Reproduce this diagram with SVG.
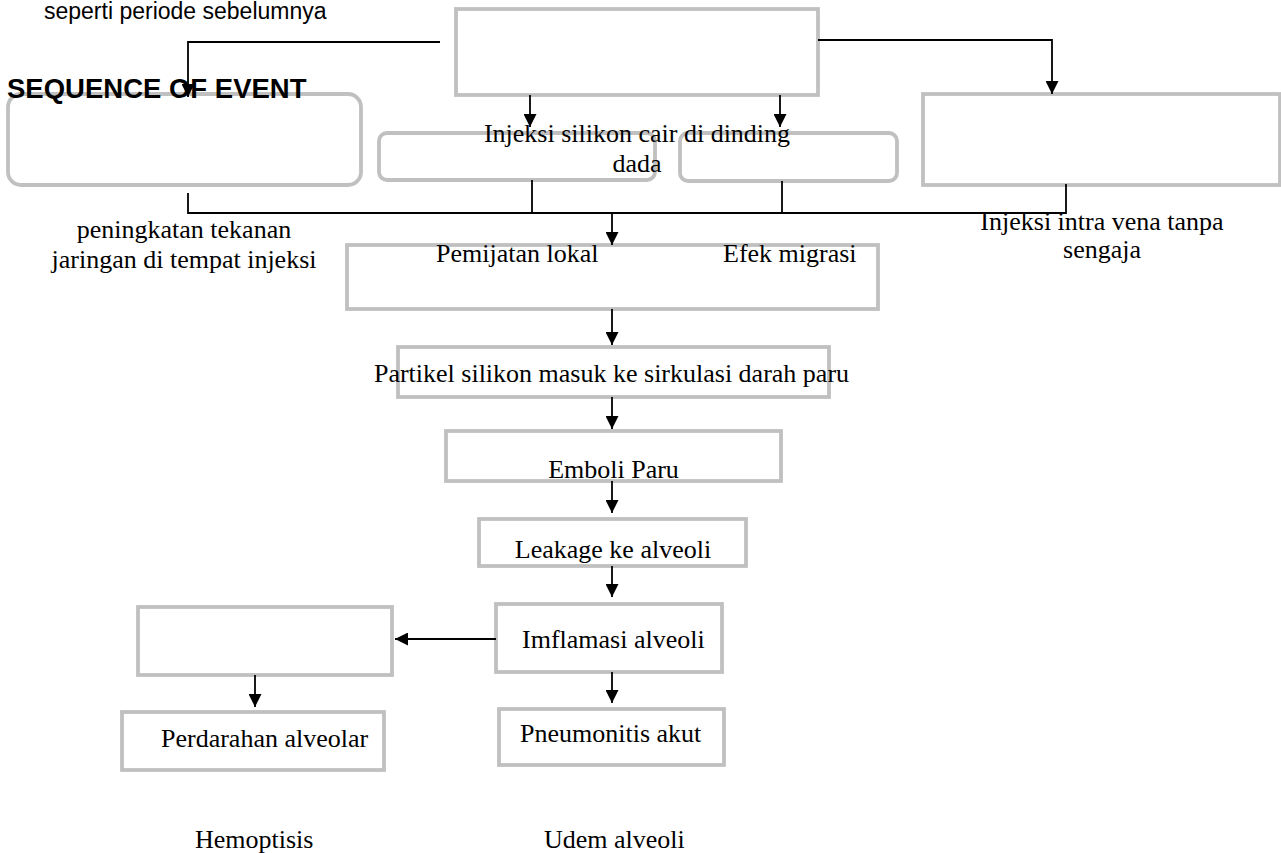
<svg xmlns="http://www.w3.org/2000/svg" width="1281" height="853" viewBox="0 0 1281 853">
<style>
.box{fill:#fff;stroke:#c0c0c0;stroke-width:3.8}
.ln{fill:none;stroke:#000;stroke-width:1.8}
.t{font-family:"Liberation Serif","Times New Roman",serif;font-size:26px;fill:#000}
.c{text-anchor:middle}
</style>
<defs>
<marker id="ah" viewBox="0 0 13 13" refX="13" refY="6.5" markerWidth="13" markerHeight="13" markerUnits="userSpaceOnUse" orient="auto">
<path d="M0,0 L13,6.5 L0,13 z" fill="#000"/>
</marker>
</defs>
<rect width="1281" height="853" fill="#fff"/>
<g id="nodes">
<g id="n-top"><rect class="box" x="456" y="9" width="362" height="86"/></g>
<g id="n-left"><rect class="box" x="8" y="94" width="353" height="91" rx="13"/></g>
<g id="n-mid-left"><rect class="box" x="379" y="133" width="276" height="47" rx="8"/></g>
<g id="n-mid-right"><rect class="box" x="680" y="133" width="217" height="48" rx="8"/></g>
<g id="n-right"><rect class="box" x="923" y="94" width="357" height="91"/></g>
<g id="n-pemijatan"><rect class="box" x="347" y="245" width="531" height="64"/></g>
<g id="n-partikel"><rect class="box" x="398" y="347" width="431" height="50"/></g>
<g id="n-emboli"><rect class="box" x="446" y="431" width="335" height="50"/></g>
<g id="n-leakage"><rect class="box" x="479" y="519" width="267" height="47"/></g>
<g id="n-imflamasi"><rect class="box" x="496" y="604" width="226" height="68"/></g>
<g id="n-blank"><rect class="box" x="138" y="607" width="254" height="68"/></g>
<g id="n-perdarahan"><rect class="box" x="122" y="712" width="262" height="58"/></g>
<g id="n-pneumonitis"><rect class="box" x="499" y="709" width="225" height="56"/></g>
</g>
<g id="connectors">
<path class="ln" d="M440,42 H188 V97" marker-end="url(#ah)"/>
<path class="ln" d="M818,40 H1052 V94" marker-end="url(#ah)"/>
<path class="ln" d="M530,95 V127" marker-end="url(#ah)"/>
<path class="ln" d="M780,95 V127" marker-end="url(#ah)"/>
<path class="ln" d="M188,193 V213 H1066 V184"/>
<path class="ln" d="M532,180 V213"/>
<path class="ln" d="M782,181 V213"/>
<path class="ln" d="M612,213 V245" marker-end="url(#ah)"/>
<path class="ln" d="M612,309 V345" marker-end="url(#ah)"/>
<path class="ln" d="M612,397 V429" marker-end="url(#ah)"/>
<path class="ln" d="M612,481 V513" marker-end="url(#ah)"/>
<path class="ln" d="M612,566 V597" marker-end="url(#ah)"/>
<path class="ln" d="M496,639 H395" marker-end="url(#ah)"/>
<path class="ln" d="M255,675 V707" marker-end="url(#ah)"/>
<path class="ln" d="M612,672 V703" marker-end="url(#ah)"/>
</g>
<g id="labels">
<text x="44" y="19" font-family="'Liberation Sans',Arial,sans-serif" font-size="23">seperti periode sebelumnya</text>
<text x="7" y="98" font-family="'Liberation Sans',Arial,sans-serif" font-size="27.5" font-weight="bold">SEQUENCE OF EVENT</text>
<text class="t c" x="637" y="142">Injeksi silikon cair di dinding</text>
<text class="t c" x="637" y="172">dada</text>
<text class="t c" x="184" y="238">peningkatan tekanan</text>
<text class="t c" x="184" y="268">jaringan di tempat injeksi</text>
<text class="t c" x="1102" y="230">Injeksi intra vena tanpa</text>
<text class="t c" x="1102" y="258">sengaja</text>
<text class="t" x="436" y="262">Pemijatan lokal</text>
<text class="t" x="723" y="262">Efek migrasi</text>
<text class="t c" x="611.5" y="382">Partikel silikon masuk ke sirkulasi darah paru</text>
<text class="t c" x="613.5" y="478">Emboli Paru</text>
<text class="t c" x="613" y="558">Leakage ke alveoli</text>
<text class="t" x="522" y="648">Imflamasi alveoli</text>
<text class="t" x="520" y="742">Pneumonitis akut</text>
<text class="t" x="161" y="747">Perdarahan alveolar</text>
<text class="t" x="195" y="848">Hemoptisis</text>
<text class="t" x="544" y="848">Udem alveoli</text>
</g>
</svg>
